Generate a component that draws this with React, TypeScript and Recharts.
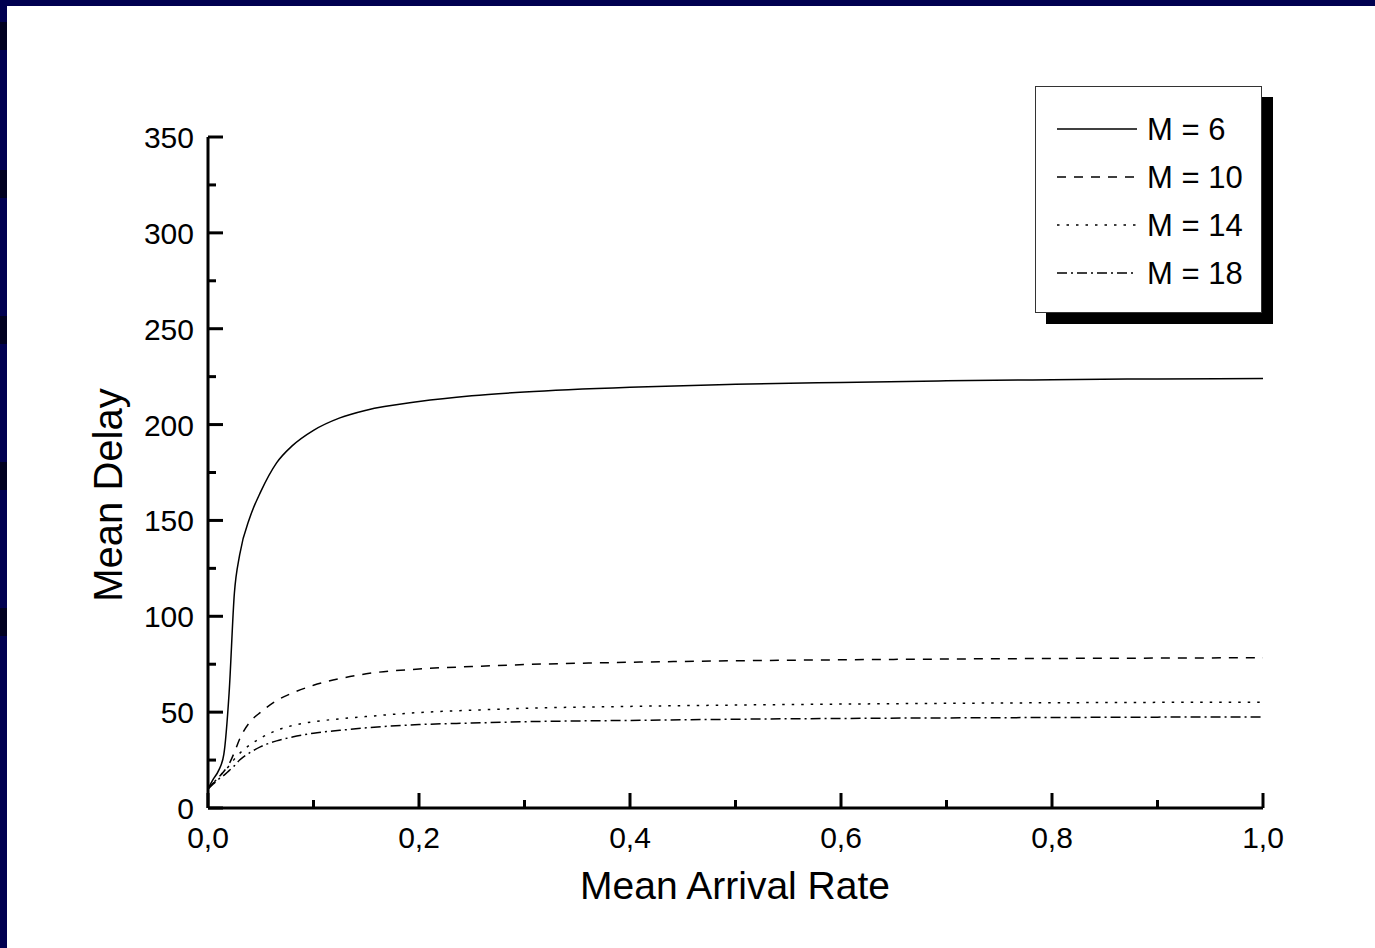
import React from "react";
import { LineChart, Line, XAxis, YAxis, Label } from "recharts";

// Mean arrival rate sample points (shared by all series)
const arrivalRates = [
  0, 0.005, 0.01, 0.015, 0.02, 0.025, 0.03, 0.04, 0.05, 0.065, 0.08, 0.1,
  0.125, 0.15, 0.2, 0.25, 0.3, 0.4, 0.5, 0.6, 0.7, 0.8, 0.9, 1.0,
];

// Mean delay per series
const delayM6 = [
  10, 15, 19.5, 28, 60, 112, 132, 152, 165, 180, 189, 197, 203.5, 207.5, 212,
  215, 217, 219.5, 221, 222, 222.8, 223.4, 223.8, 224,
];
const delayM10 = [
  10, 13, 16, 19, 23, 29, 36, 45, 50, 56, 60, 64, 67.5, 70, 72.5, 73.8, 74.8,
  76, 76.8, 77.3, 77.7, 78, 78.2, 78.4,
];
const delayM14 = [
  10, 13, 16, 19, 22, 25.5, 28.5, 33, 36.5, 40.5, 43, 45, 46.5, 47.7, 49.8, 51,
  52, 53, 53.7, 54.2, 54.6, 54.9, 55.1, 55.2,
];
const delayM18 = [
  10, 12.5, 15, 17, 19.5, 22, 25, 29, 32, 35, 37, 39, 40.5, 41.8, 43.5, 44.3,
  45, 45.7, 46.3, 46.7, 47, 47.2, 47.4, 47.5,
];

const xTicks = [0, 0.1, 0.2, 0.3, 0.4, 0.5, 0.6, 0.7, 0.8, 0.9, 1.0];
const yTicks = [0, 25, 50, 75, 100, 125, 150, 175, 200, 225, 250, 275, 300, 325, 350];

const SERIES = [
  { key: "m6", name: "M = 6", dash: undefined },
  { key: "m10", name: "M = 10", dash: "9 8" },
  { key: "m14", name: "M = 14", dash: "2.5 7" },
  { key: "m18", name: "M = 18", dash: "10 4 2 4" },
];

const data = arrivalRates.map((x, i) => ({
  x,
  m6: delayM6[i],
  m10: delayM10[i],
  m14: delayM14[i],
  m18: delayM18[i],
}));

const FONT = '"Liberation Sans", Arial, Helvetica, sans-serif';
const NAVY = "#000050";

function XTick(props: any) {
  const { x, y, payload } = props;
  const major = Math.round(payload.value * 10) % 2 === 0;
  return (
    <g>
      <line x1={x} y1={y} x2={x} y2={y - (major ? 15 : 8)} stroke="#000" strokeWidth={3} />
      {major && (
        <text x={x} y={y + 40} textAnchor="middle" fontSize={30} fontFamily={FONT} fill="#000">
          {payload.value.toFixed(1).replace(".", ",")}
        </text>
      )}
    </g>
  );
}

function YTick(props: any) {
  const { x, y, payload } = props;
  const major = payload.value % 50 === 0;
  return (
    <g>
      <line x1={x} y1={y} x2={x + (major ? 15 : 8)} y2={y} stroke="#000" strokeWidth={3} />
      {major && (
        <text x={x - 14} y={y + 11} textAnchor="end" fontSize={30} fontFamily={FONT} fill="#000">
          {payload.value}
        </text>
      )}
    </g>
  );
}

// Legend box with drop shadow, drawn over the chart
function LegendBox() {
  return (
    <div
      style={{
        position: "absolute",
        left: 1035,
        top: 86,
        width: 227,
        height: 227,
        boxSizing: "border-box",
        border: "1.5px solid #333",
        background: "#fff",
        boxShadow: "11px 11px 0 #000",
      }}
    >
      <svg width={224} height={224}>
        {SERIES.map((s, i) => {
          const cy = 42 + i * 48;
          return (
            <g key={s.key}>
              <line x1={21} y1={cy} x2={101} y2={cy} stroke="#000" strokeWidth={1.5} strokeDasharray={s.dash} />
              <text x={111} y={cy + 11} fontSize={31} fontFamily={FONT} fill="#000">
                {s.name}
              </text>
            </g>
          );
        })}
      </svg>
    </div>
  );
}

export default function App() {
  return (
    <div style={{ position: "absolute", left: 0, top: 0, width: 1375, height: 948, background: "#fff" }}>
      <div style={{ position: "absolute", left: 0, top: 0, width: 1375, height: 6, background: NAVY }} />
      <div style={{ position: "absolute", left: 0, top: 0, width: 7, height: 948, background: NAVY }} />
      {[22, 170, 316, 462, 608].map((t) => (
        <div key={t} style={{ position: "absolute", left: 0, top: t, width: 7, height: 28, background: "#000020" }} />
      ))}
      <div style={{ position: "absolute", left: 0, top: 0 }}>
        <LineChart
          width={1375}
          height={948}
          data={data}
          margin={{ top: 137, right: 112, left: 0, bottom: 0 }}
        >
          <XAxis
            dataKey="x"
            type="number"
            domain={[0, 1]}
            ticks={xTicks}
            interval={0}
            height={140}
            tickSize={0}
            tickMargin={0}
            tickLine={false}
            axisLine={{ stroke: "#000", strokeWidth: 3 }}
            tick={<XTick />}
          >
            <Label
              content={() => (
                <text x={735} y={899} textAnchor="middle" fontSize={39} fontFamily={FONT} fill="#000">
                  Mean Arrival Rate
                </text>
              )}
            />
          </XAxis>
          <YAxis
            type="number"
            domain={[0, 350]}
            ticks={yTicks}
            interval={0}
            width={208}
            tickSize={0}
            tickMargin={0}
            tickLine={false}
            axisLine={{ stroke: "#000", strokeWidth: 3 }}
            tick={<YTick />}
          >
            <Label
              content={() => (
                <text
                  x={122}
                  y={495}
                  transform="rotate(-90, 122, 495)"
                  textAnchor="middle"
                  fontSize={40}
                  fontFamily={FONT}
                  fill="#000"
                >
                  Mean Delay
                </text>
              )}
            />
          </YAxis>
          {SERIES.map((s) => (
            <Line
              key={s.key}
              dataKey={s.key}
              name={s.name}
              type="monotone"
              stroke="#000"
              strokeWidth={1.5}
              strokeDasharray={s.dash}
              dot={false}
              activeDot={false}
              isAnimationActive={false}
            />
          ))}
        </LineChart>
      </div>
      <LegendBox />
    </div>
  );
}
